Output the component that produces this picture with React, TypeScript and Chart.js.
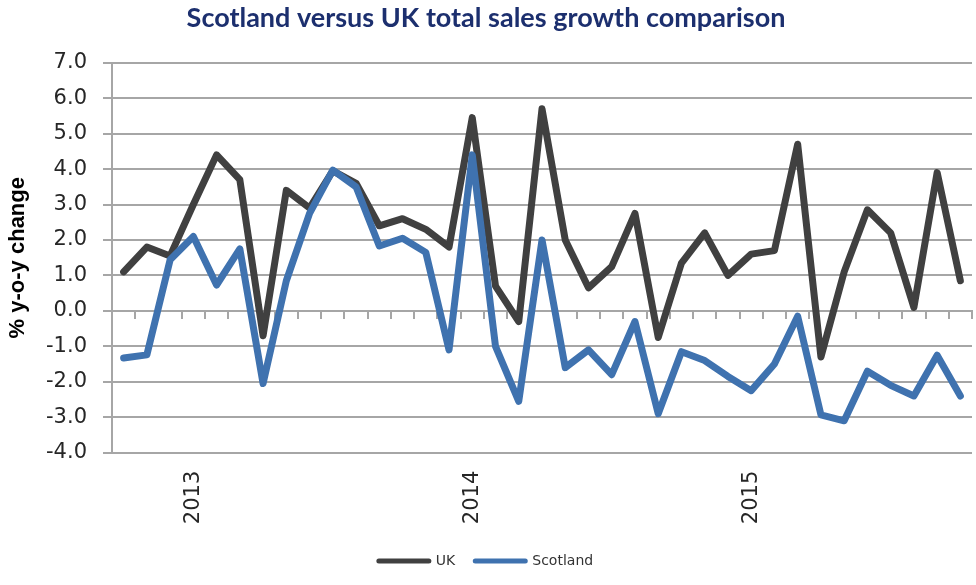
import React, { useEffect, useRef } from "react";
import { Chart, registerables } from "chart.js";

Chart.register(...registerables);

const months: string[] = [
  "Oct 2012", "Nov 2012", "Dec 2012",
  "Jan 2013", "Feb 2013", "Mar 2013", "Apr 2013", "May 2013", "Jun 2013",
  "Jul 2013", "Aug 2013", "Sep 2013", "Oct 2013", "Nov 2013", "Dec 2013",
  "Jan 2014", "Feb 2014", "Mar 2014", "Apr 2014", "May 2014", "Jun 2014",
  "Jul 2014", "Aug 2014", "Sep 2014", "Oct 2014", "Nov 2014", "Dec 2014",
  "Jan 2015", "Feb 2015", "Mar 2015", "Apr 2015", "May 2015", "Jun 2015",
  "Jul 2015", "Aug 2015", "Sep 2015", "Oct 2015",
];

const ukValues: number[] = [
  1.1, 1.8, 1.55,
  3.0, 4.4, 3.7, -0.7, 3.4, 2.9, 3.95, 3.6, 2.4, 2.6, 2.3, 1.8,
  5.45, 0.7, -0.3, 5.7, 2.0, 0.65, 1.25, 2.75, -0.75, 1.35, 2.2, 1.0,
  1.6, 1.7, 4.7, -1.3, 1.1, 2.85, 2.2, 0.1, 3.9, 0.85,
];

const scotlandValues: number[] = [
  -1.33, -1.24, 1.44,
  2.1, 0.73, 1.75, -2.05, 0.85, 2.75, 3.97, 3.5, 1.83, 2.05, 1.65, -1.1,
  4.4, -1.0, -2.55, 2.0, -1.6, -1.1, -1.8, -0.3, -2.9, -1.15, -1.4, -1.85,
  -2.25, -1.5, -0.15, -2.93, -3.1, -1.7, -2.1, -2.4, -1.25, -2.4,
];

const yMin = -4;
const yMax = 7;

const GRID = "#a6a6a6";

export default function App() {
  const ref = useRef<HTMLCanvasElement | null>(null);

  useEffect(() => {
    if (!ref.current) return;
    Chart.defaults.font.family = "'DejaVu Sans', sans-serif";
    const chart = new Chart(ref.current, {
      type: "line",
      data: {
        labels: months,
        datasets: [
          {
            label: "UK",
            data: ukValues,
            borderColor: "#404040",
            backgroundColor: "#404040",
            borderWidth: 7,
            pointRadius: 0,
            tension: 0,
            borderJoinStyle: "round",
            borderCapStyle: "round",
            order: 1,
          },
          {
            label: "Scotland",
            data: scotlandValues,
            borderColor: "#3f72af",
            backgroundColor: "#3f72af",
            borderWidth: 7,
            pointRadius: 0,
            tension: 0,
            borderJoinStyle: "round",
            borderCapStyle: "round",
            order: 0,
          },
        ],
      },
      options: {
        responsive: true,
        maintainAspectRatio: false,
        animation: false,
        layout: { padding: { bottom: 7, right: 4, left: 0, top: 0 } },
        plugins: {
          title: {
            display: true,
            text: "Scotland versus UK total sales growth comparison",
            color: "#1c2f6e",
            font: { family: "Lato", weight: "bold", size: 27, lineHeight: 1.2 },
            padding: { top: 2, bottom: 28.3 },
          },
          legend: {
            display: true,
            position: "bottom",
            labels: {
              usePointStyle: true,
              pointStyle: "line",
              pointStyleWidth: 50,
              padding: 20,
              color: "#333333",
              font: { size: 14 },
              sort: (a: any, b: any) => a.datasetIndex - b.datasetIndex,
              generateLabels: (c: any) => {
                const items = Chart.defaults.plugins.legend.labels.generateLabels(c);
                return items.map((it: any) => ({ ...it, lineWidth: 5, lineCap: "round", pointStyle: "line" }));
              },
            },
          },
          tooltip: { enabled: false },
        },
        scales: {
          x: {
            type: "category",
            position: "bottom",
            offset: true,
            grid: { display: false, drawTicks: false, offset: true },
            border: { display: false },
            ticks: {
              autoSkip: false,
              maxRotation: 90,
              minRotation: 90,
              padding: 18,
              color: "#262626",
              font: { size: 21 },
              callback: (_v: any, i: number) =>
                months[i].startsWith("Jan") ? months[i].slice(4) : "",
            },
            afterFit: (s: any) => {
              s.height = 81.3;
              s.paddingLeft = 0;
              s.paddingRight = 0;
            },
          },
          x2: {
            type: "category",
            position: { y: 0 },
            offset: true,
            grid: {
              drawOnChartArea: false,
              drawTicks: true,
              tickLength: 7,
              offset: true,
              color: GRID,
              lineWidth: 2,
            },
            border: { display: true, color: GRID, width: 2 },
            ticks: { display: false, autoSkip: false },
            afterFit: (s: any) => {
              s.paddingLeft = 0;
              s.paddingRight = 0;
            },
          },
          y: {
            type: "linear",
            min: yMin,
            max: yMax,
            ticks: {
              stepSize: 1,
              padding: 16,
              color: "#262626",
              font: { size: 21 },
              callback: (v: any) => Number(v).toFixed(1),
            },
            grid: {
              color: GRID,
              lineWidth: 2,
              drawTicks: true,
              tickLength: 9,
            },
            border: { display: true, color: GRID, width: 2 },
            title: {
              display: true,
              text: "% y-o-y change",
              color: "#000000",
              font: { family: "'Liberation Sans', Arial, sans-serif", weight: "bold", size: 22, lineHeight: 1.2 },
              padding: { top: 4.5, bottom: 0 },
            },
            afterFit: (s: any) => {
              s.width = 112;
            },
          },
        },
      },
    } as any);
    return () => chart.destroy();
  }, []);

  return (
    <div style={{ position: "fixed", left: 0, top: 0, width: 976, height: 585, background: "#ffffff" }}>
      <canvas ref={ref} />
    </div>
  );
}
